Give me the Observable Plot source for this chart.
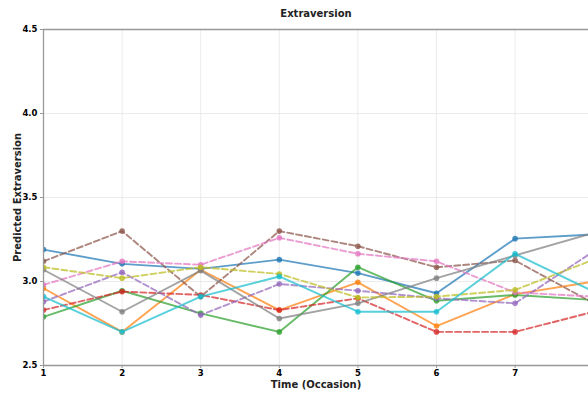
<!DOCTYPE html>
<html>
<head>
<meta charset="utf-8">
<script src="https://cdn.jsdelivr.net/npm/d3@7"></script>
<script src="https://cdn.jsdelivr.net/npm/@observablehq/plot@0.6"></script>
<style>
  html, body { margin: 0; padding: 0; background: #fff; }
  #chart svg { display: block; }
</style>
</head>
<body>
<div id="chart"></div>
<script>
const occasions = [1, 2, 3, 4, 5, 6, 7, 8];
const yTicks = [2.5, 3.0, 3.5, 4.0, 4.5];

const blue   = [3.19, 3.105, 3.075, 3.13, 3.05, 2.93, 3.255, 3.28];
const orange = [2.96, 2.70, 3.07, 2.83, 2.995, 2.735, 2.925, 3.00];
const green  = [2.79, 2.945, 2.81, 2.70, 3.085, 2.885, 2.92, 2.89];
const red    = [2.83, 2.94, 2.92, 2.83, 2.90, 2.70, 2.70, 2.82];
const purple = [2.88, 3.055, 2.80, 2.985, 2.945, 2.90, 2.87, 3.18];
const brown  = [3.12, 3.30, 2.91, 3.30, 3.21, 3.085, 3.125, 2.87];
const pink   = [2.98, 3.12, 3.10, 3.26, 3.165, 3.12, 2.935, 2.91];
const gray   = [3.07, 2.82, 3.065, 2.78, 2.87, 3.02, 3.155, 3.29];
const olive  = [3.085, 3.02, 3.085, 3.045, 2.905, 2.91, 2.95, 3.13];
const cyan   = [2.91, 2.70, 2.91, 3.03, 2.82, 2.82, 3.165, 2.94];

const series = [
  {name: "S1", values: blue,   color: "#1f77b4", dashed: false},
  {name: "S2", values: orange, color: "#ff7f0e", dashed: false},
  {name: "S3", values: green,  color: "#2ca02c", dashed: false},
  {name: "S4", values: red,    color: "#d62728", dashed: true},
  {name: "S5", values: purple, color: "#9467bd", dashed: true},
  {name: "S6", values: brown,  color: "#8c564b", dashed: true},
  {name: "S7", values: pink,   color: "#e377c2", dashed: true},
  {name: "S8", values: gray,   color: "#7f7f7f", dashed: false},
  {name: "S9", values: olive,  color: "#bcbd22", dashed: true},
  {name: "S10", values: cyan,  color: "#17becf", dashed: false}
];

const font = "DejaVu Sans";
const seriesMarks = series.flatMap(s => {
  const rows = occasions.map((t, i) => ({t, v: s.values[i]}));
  return [
    Plot.line(rows, {x: "t", y: "v", stroke: s.color, strokeWidth: 1.9, strokeOpacity: 0.72,
      strokeDasharray: s.dashed ? "6,3" : null, clip: true}),
    Plot.dot(rows, {x: "t", y: "v", fill: s.color, r: 2.8, fillOpacity: 0.8, clip: true})
  ];
});

const chart = Plot.plot({
  width: 588,
  height: 394,
  marginLeft: 43,
  marginRight: 0,
  marginTop: 29,
  marginBottom: 29,
  style: {fontFamily: font, fontSize: "8.5px", background: "#fff"},
  x: {domain: [1, 1 + 545 / 78.6], ticks: [1,2,3,4,5,6,7], tickFormat: d3.format("d")},
  y: {domain: [2.5, 4.5], ticks: yTicks},
  marks: [
    Plot.gridX([1,2,3,4,5,6,7], {stroke: "#e6e6e6", strokeOpacity: 1, strokeWidth: 0.8}),
    Plot.gridY(yTicks, {stroke: "#e6e6e6", strokeOpacity: 1, strokeWidth: 0.8}),
    ...seriesMarks,
    Plot.ruleX([1], {stroke: "#999", strokeWidth: 1.3}),
    Plot.ruleY([2.5], {stroke: "#999", strokeWidth: 1.3}),
    Plot.ruleY([4.5], {stroke: "#999", strokeWidth: 1.3}),
    Plot.axisY({ticks: yTicks, tickFormat: d3.format(".1f"), tickSize: 3, tickPadding: 3,
      fontWeight: "bold", label: null, stroke: "#999"}),
    Plot.axisX({ticks: [1,2,3,4,5,6,7], tickFormat: d3.format("d"), tickSize: 3, tickPadding: 1,
      fontWeight: "bold", label: null, stroke: "#999"}),
    Plot.text(["Extraversion"], {frameAnchor: "top", dy: -20, fontWeight: "bold", fontSize: 10, fill: "#222"}),
    Plot.text(["Time (Occasion)"], {frameAnchor: "bottom", dy: 19, fontWeight: "bold", fontSize: 10, fill: "#222", lineAnchor: "middle"}),
    Plot.text(["Predicted Extraversion"], {frameAnchor: "left", dx: -26, rotate: -90, textAnchor: "middle",
      fontWeight: "bold", fontSize: 10, fill: "#222"})
  ]
});
document.getElementById("chart").appendChild(chart);
</script>
</body>
</html>
